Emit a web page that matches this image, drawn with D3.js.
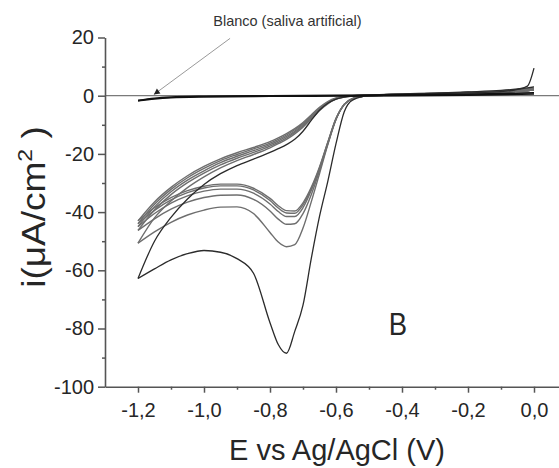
<!DOCTYPE html>
<html><head><meta charset="utf-8">
<script src="https://cdn.jsdelivr.net/npm/d3@7"></script>
<style>
body{margin:0;background:#fff}
svg{display:block}
text{font-family:"Liberation Sans",Arial,Helvetica,sans-serif}
</style>
</head><body>
<svg id="chart" width="559" height="468"></svg>
<script>
// Potential grid (V vs Ag/AgCl), ascending
const potential = [-1.2, -1.15, -1.1, -1.05, -1.0, -0.95, -0.9, -0.85, -0.8, -0.775, -0.75, -0.725, -0.7, -0.675, -0.65, -0.625, -0.6, -0.575, -0.55, -0.5, -0.4, -0.3, -0.2, -0.1, -0.05, -0.02, 0.0];

// First cycle (black): cathodic sweep and return sweep (µA/cm²)
const cycle1Cathodic = [-62.8, -59.5, -56.4, -54.3, -53.2, -53.8, -56.0, -61.0, -78.0, -85.5, -88.5, -81.0, -72.0, -56.0, -41.5, -29.5, -16.5, -5.5, -1.5, 0.0, 0.4, 0.7, 1.0, 1.4, 2.2, 3.3, 9.5];
const cycle1Anodic   = [-62.8, -50.0, -41.8, -35.5, -30.5, -26.8, -24.0, -21.8, -19.5, -18.2, -16.8, -15.0, -12.2, -8.5, -5.0, -2.6, -1.2, -0.5, -0.2, 0.2, 0.6, 0.9, 1.3, 1.8, 2.3, 2.7, 3.0];

// Following cycles (grey): cathodic sweeps
const cycle2Cathodic = [-50.7, -46.8, -43.5, -41.0, -39.3, -38.3, -38.2, -40.5, -47.0, -50.3, -51.9, -51.2, -45.5, -36.5, -26.8, -16.9, -8.2, -3.0, -1.0, 0.0, 0.3, 0.6, 0.9, 1.2, 1.5, 1.7, 1.9];
const cycle3Cathodic = [-46.3, -42.3, -39.0, -36.6, -35.0, -34.2, -34.1, -35.6, -39.6, -42.4, -44.2, -44.0, -40.5, -34.0, -25.8, -16.6, -8.1, -3.0, -1.0, 0.0, 0.3, 0.6, 0.9, 1.2, 1.5, 1.7, 1.9];
const cycle4Cathodic = [-45.0, -40.5, -36.9, -34.4, -32.8, -32.1, -32.1, -33.5, -37.2, -39.8, -41.5, -41.5, -38.5, -32.6, -25.2, -16.4, -8.0, -3.0, -1.0, 0.0, 0.3, 0.6, 0.9, 1.2, 1.5, 1.7, 1.9];
const cycle5Cathodic = [-44.0, -39.4, -35.8, -33.3, -31.7, -31.0, -31.0, -32.4, -36.0, -38.6, -40.3, -40.4, -37.5, -32.0, -24.8, -16.2, -7.9, -3.0, -1.0, 0.0, 0.3, 0.6, 0.9, 1.2, 1.5, 1.7, 1.9];
const cycle6Cathodic = [-43.0, -38.5, -35.0, -32.6, -31.1, -30.4, -30.4, -31.8, -35.3, -37.8, -39.5, -39.6, -36.8, -31.5, -24.5, -16.0, -7.8, -3.0, -1.0, 0.0, 0.3, 0.6, 0.9, 1.2, 1.5, 1.7, 1.9];

// Following cycles (grey): return sweeps
const cycle2Anodic = [-50.7, -42.0, -36.2, -31.6, -27.9, -24.8, -22.3, -20.2, -17.9, -16.5, -15.0, -13.1, -10.8, -8.0, -5.1, -2.8, -1.2, -0.5, -0.1, 0.2, 0.5, 0.8, 1.1, 1.5, 1.9, 2.2, 2.4];
const cycle3Anodic = [-46.3, -39.3, -34.0, -29.9, -26.6, -23.8, -21.5, -19.5, -17.3, -16.0, -14.5, -12.6, -10.4, -7.7, -4.9, -2.6, -1.1, -0.4, -0.1, 0.2, 0.5, 0.8, 1.1, 1.5, 1.9, 2.2, 2.4];
const cycle4Anodic = [-45.0, -38.2, -33.0, -29.0, -25.8, -23.0, -20.8, -18.9, -16.8, -15.5, -14.0, -12.2, -10.0, -7.3, -4.6, -2.4, -1.0, -0.4, -0.1, 0.2, 0.5, 0.8, 1.1, 1.5, 1.9, 2.2, 2.4];
const cycle5Anodic = [-44.0, -37.3, -32.2, -28.2, -25.0, -22.3, -20.2, -18.3, -16.3, -15.0, -13.5, -11.7, -9.6, -7.0, -4.3, -2.2, -0.9, -0.3, 0.0, 0.2, 0.5, 0.8, 1.1, 1.5, 1.9, 2.2, 2.4];
const cycle6Anodic = [-43.0, -36.5, -31.5, -27.5, -24.3, -21.7, -19.6, -17.8, -15.8, -14.5, -13.0, -11.3, -9.2, -6.6, -4.0, -2.0, -0.8, -0.3, 0.0, 0.2, 0.5, 0.8, 1.1, 1.5, 1.9, 2.2, 2.4];

// Blank (artificial saliva)
const blankPotential = [-1.2, -1.15, -1.1, -1.0, -0.8, -0.6, -0.4, -0.2, 0.0];
const blankCathodic  = [-1.7, -1.1, -0.7, -0.4, -0.2, -0.1, 0.0, 0.2, 0.6];
const blankAnodic    = [-1.7, -0.9, -0.5, -0.2, 0.0, 0.1, 0.3, 0.5, 1.0];

// Axes ticks
const xMajorTicks = [-1.2, -1.0, -0.8, -0.6, -0.4, -0.2, 0.0];
const xMinorTicks = [-1.1, -0.9, -0.7, -0.5, -0.3, -0.1];
const yMajorTicks = [-100, -80, -60, -40, -20, 0, 20];
const yMinorTicks = [-90, -70, -50, -30, -10, 10];

// Annotation
const blankLabel = "Blanco (saliva artificial)";
const blankArrowFrom = [-0.921, 19.7];
const blankArrowTo = [-1.152, 0.4];
const blankLabelPos = [-0.972, 24.0];
const panelLabel = "B";
const panelLabelPos = [-0.412, -82.3];

const svg = d3.select("#chart");
const x = d3.scaleLinear().domain([-1.3, 0.1]).range([105, 567]);
const y = d3.scaleLinear().domain([-100, 20]).range([386.7, 37.5]);

const loc = d3.formatLocale({decimal: ",", thousands: ".", grouping: [3], currency: ["", ""], minus: "-"});
const fx = loc.format(".1f");
const fy = loc.format("d");

const axisColor = "#555";

// zero line
svg.append("line")
  .attr("x1", x(-1.3)).attr("x2", x(0.1))
  .attr("y1", y(0)).attr("y2", y(0))
  .attr("stroke", "#7a7a7a").attr("stroke-width", 1.3);

const line = d3.line().x(d => x(d[0])).y(d => y(d[1])).curve(d3.curveMonotoneX);
const zipP = (ps, vs) => ps.map((p, i) => [p, vs[i]]);

const greySweeps = [
  cycle2Cathodic, cycle3Cathodic, cycle4Cathodic, cycle5Cathodic, cycle6Cathodic,
  cycle2Anodic, cycle3Anodic, cycle4Anodic, cycle5Anodic, cycle6Anodic
];
svg.append("g").selectAll("path").data(greySweeps).join("path")
  .attr("d", v => line(zipP(potential, v)))
  .attr("fill", "none").attr("stroke", "#6e6e6e").attr("stroke-width", 1.4);

svg.append("g").selectAll("path").data([cycle1Cathodic, cycle1Anodic]).join("path")
  .attr("d", v => line(zipP(potential, v)))
  .attr("fill", "none").attr("stroke", "#2b2b2b").attr("stroke-width", 1.3);

svg.append("g").selectAll("path").data([blankCathodic, blankAnodic]).join("path")
  .attr("d", v => line(zipP(blankPotential, v)))
  .attr("fill", "none").attr("stroke", "#111").attr("stroke-width", 1.6);

// axes
const gx = svg.append("g").attr("transform", `translate(0,${y(-100)})`)
  .call(d3.axisBottom(x).tickValues(xMajorTicks).tickFormat(fx).tickSize(6).tickSizeOuter(0).tickPadding(10));
const gxm = svg.append("g").attr("transform", `translate(0,${y(-100)})`)
  .call(d3.axisBottom(x).tickValues(xMinorTicks).tickFormat("").tickSize(3).tickSizeOuter(0));
const gy = svg.append("g").attr("transform", `translate(${x(-1.3)},0)`)
  .call(d3.axisLeft(y).tickValues(yMajorTicks).tickFormat(fy).tickSize(7).tickSizeOuter(0).tickPadding(4));
const gym = svg.append("g").attr("transform", `translate(${x(-1.3)},0)`)
  .call(d3.axisLeft(y).tickValues(yMinorTicks).tickFormat("").tickSize(3).tickSizeOuter(0));

[gx, gxm, gy, gym].forEach(g => {
  g.selectAll(".domain").attr("stroke", axisColor).attr("stroke-width", 1.6);
  g.selectAll(".tick line").attr("stroke", axisColor).attr("stroke-width", 1.5);
  g.selectAll(".tick text").attr("fill", "#262626")
    .style("font-family", '"Liberation Sans",Arial,sans-serif').style("font-size", "20px");
});
gxm.selectAll(".domain").remove();
gym.selectAll(".domain").remove();

// axis titles
svg.append("text")
  .attr("x", 337).attr("y", 460)
  .attr("text-anchor", "middle")
  .attr("fill", "#262626")
  .style("font-size", "29px")
  .text("E vs Ag/AgCl (V)");

const yt = svg.append("text")
  .attr("transform", "translate(45,207) rotate(-90) scale(1,0.88)")
  .attr("text-anchor", "middle")
  .attr("fill", "#262626")
  .style("font-size", "37px");
yt.append("tspan").text("i(μA/cm");
yt.append("tspan").attr("dy", -15).style("font-size", "23px").text("2");
yt.append("tspan").attr("dy", 15).text(" )");

// annotation
svg.append("line")
  .attr("x1", x(blankArrowFrom[0])).attr("y1", y(blankArrowFrom[1]))
  .attr("x2", x(blankArrowTo[0])).attr("y2", y(blankArrowTo[1]))
  .attr("stroke", "#9a9a9a").attr("stroke-width", 1);
{
  const ax = x(blankArrowTo[0]), ay = y(blankArrowTo[1]);
  const bx = x(blankArrowFrom[0]), by = y(blankArrowFrom[1]);
  const ang = Math.atan2(by - ay, bx - ax);
  const L = 6, W = 3;
  const p1 = [ax + L*Math.cos(ang) - W*Math.sin(ang), ay + L*Math.sin(ang) + W*Math.cos(ang)];
  const p2 = [ax + L*Math.cos(ang) + W*Math.sin(ang), ay + L*Math.sin(ang) - W*Math.cos(ang)];
  svg.append("path").attr("d", `M${ax},${ay}L${p1}L${p2}Z`).attr("fill", "#222");
}
svg.append("text")
  .attr("x", x(blankLabelPos[0])).attr("y", y(blankLabelPos[1]))
  .attr("fill", "#333").style("font-size", "14.5px")
  .text(blankLabel);

svg.append("text")
  .attr("transform", `translate(${x(panelLabelPos[0])},${y(panelLabelPos[1])}) scale(0.86,1)`)
  .attr("text-anchor", "middle")
  .attr("fill", "#262626").style("font-size", "32px")
  .text(panelLabel);
</script>
</body></html>
